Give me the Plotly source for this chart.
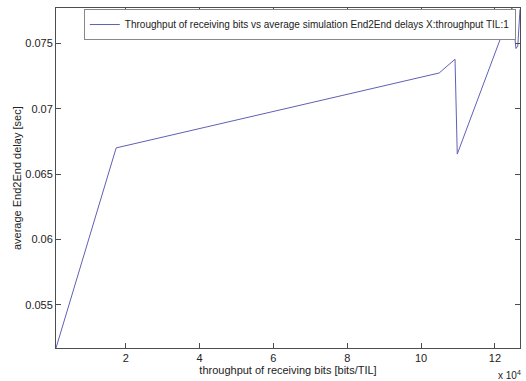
import plotly.graph_objects as go

# data (throughput in bits/TIL, delay in sec)
throughput = [1100, 17400, 104900, 109200, 109800, 124600, 125700, 126200, 126800]
delay = [0.0517, 0.0670, 0.07273, 0.07378, 0.06653, 0.0777, 0.0746, 0.0748, 0.0776]
x_tick_vals = [20000, 40000, 60000, 80000, 100000, 120000]
x_tick_text = ["2", "4", "6", "8", "10", "12"]
y_tick_vals = [0.055, 0.06, 0.065, 0.07, 0.075]
y_tick_text = ["0.055", "0.06", "0.065", "0.07", "0.075"]

NARROW = "Liberation Sans Narrow, Arial Narrow, Liberation Sans, Arial"
AX = "#4d4d4d"

fig = go.Figure()
fig.add_trace(go.Scatter(
    x=throughput, y=delay, mode="lines",
    line=dict(color="#6060b4", width=1),
    name="Throughput of receiving bits vs average simulation End2End delays X:throughput TIL:1",
))

axis_common = dict(
    showline=True, linecolor=AX, linewidth=1, mirror="ticks",
    ticks="inside", ticklen=5, tickcolor=AX, tickwidth=1,
    showgrid=False, zeroline=False,
    tickfont=dict(family=NARROW, size=11, color="#222"),
)
fig.update_xaxes(
    range=[min(throughput), max(throughput)],
    tickvals=x_tick_vals, ticktext=x_tick_text,
    title=dict(text="throughput of receiving bits [bits/TIL]", standoff=2,
               font=dict(family=NARROW, size=11, color="#222")),
    **axis_common,
)
fig.update_yaxes(
    range=[min(delay), max(delay)],
    tickvals=y_tick_vals, ticktext=y_tick_text,
    **axis_common,
)
fig.add_annotation(
    xref="paper", yref="paper", x=-0.084, y=0.5, xanchor="center", yanchor="middle",
    text="average End2End delay [sec]", textangle=-90, showarrow=False,
    font=dict(family="Liberation Sans, Arial", size=11, color="#222"),
)
fig.add_annotation(
    xref="paper", yref="paper", x=1.006, y=-0.078, xanchor="right", yanchor="middle",
    text="x 10<sup>4</sup>", showarrow=False,
    font=dict(family=NARROW, size=10, color="#222"),
)
fig.update_layout(
    width=526, height=381,
    margin=dict(l=56, r=6, t=8, b=33),
    paper_bgcolor="white", plot_bgcolor="white",
    showlegend=True,
    legend=dict(
        x=0.991, y=0.997, xanchor="right", yanchor="top",
        bgcolor="white", bordercolor="#888", borderwidth=1,
        font=dict(family=NARROW, size=10, color="#222"),
        itemwidth=30, tracegroupgap=0,
    ),
)
fig.write_html("out.html")
